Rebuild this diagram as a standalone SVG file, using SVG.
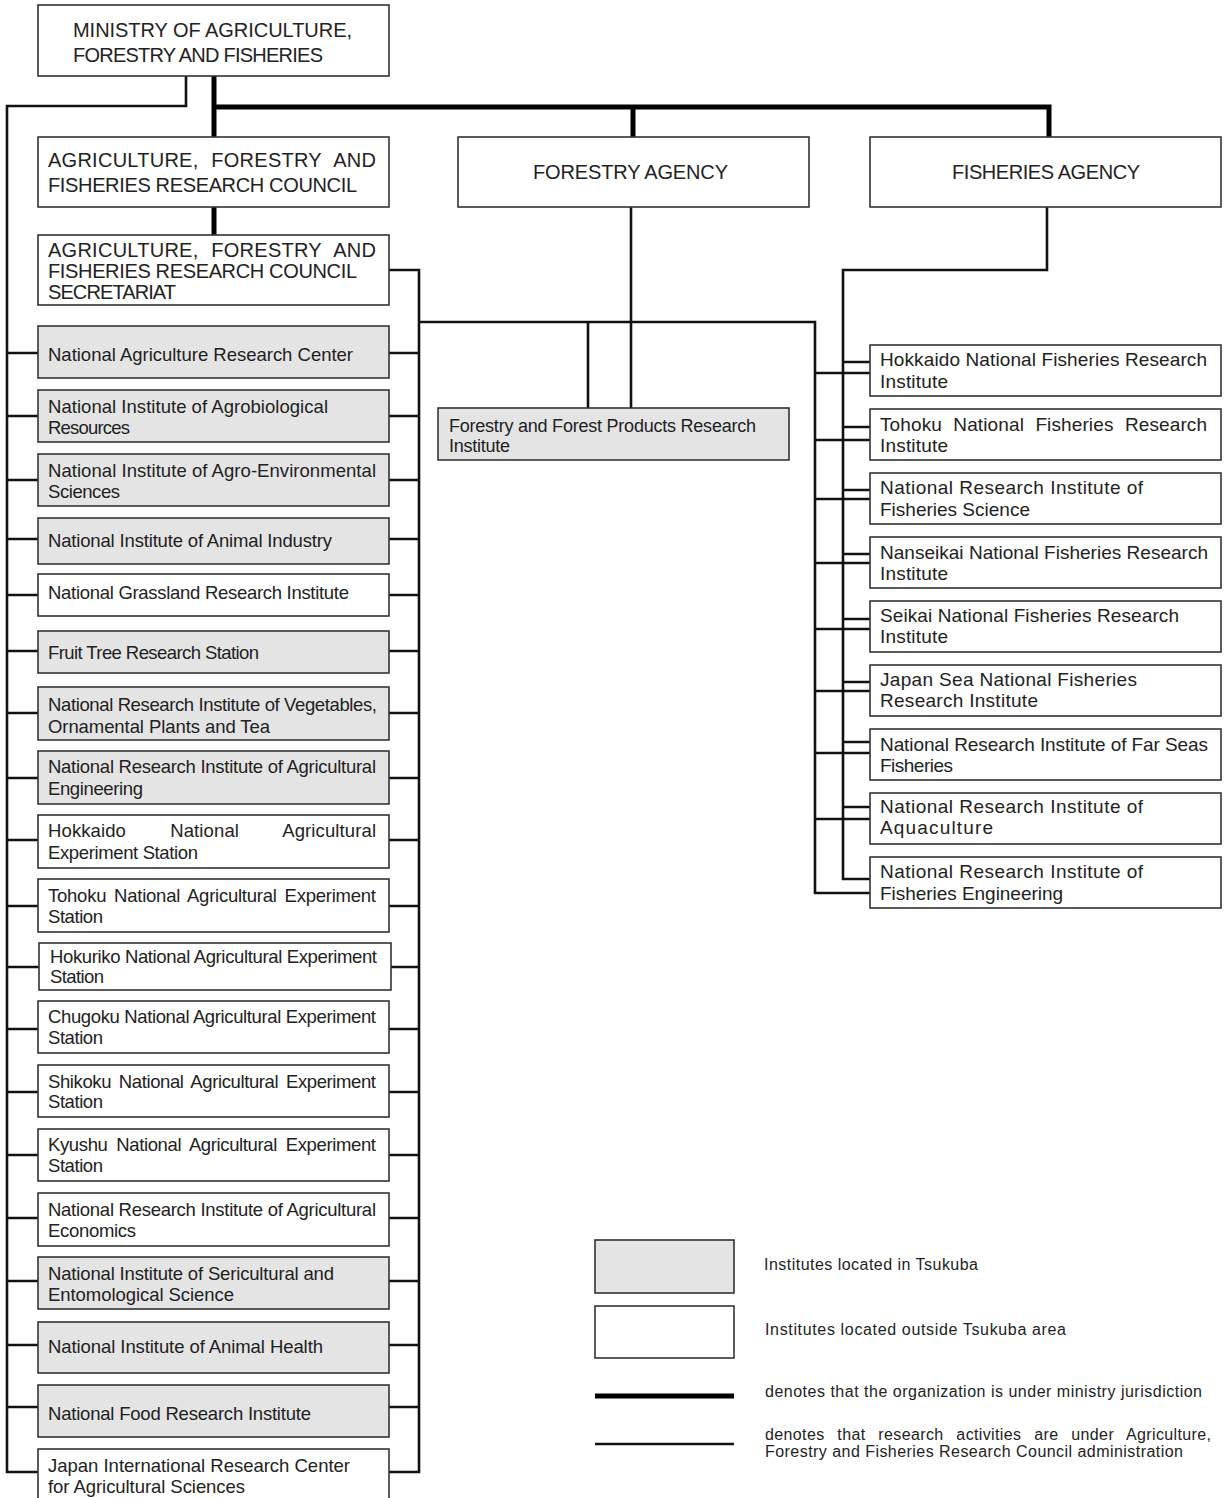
<svg xmlns="http://www.w3.org/2000/svg" width="1227" height="1498" viewBox="0 0 1227 1498">
<style>
  .box { fill: #ffffff; stroke: #333333; stroke-width: 1.6; }
  .ts { fill: #e4e4e4; stroke: #333333; stroke-width: 1.6; }
  .thin { fill: none; stroke: #111111; stroke-width: 2.6; stroke-linejoin: miter; }
  .thick { fill: none; stroke: #000000; stroke-width: 5; stroke-linejoin: miter; }
  text { font-family: "Liberation Sans", Arial, sans-serif; fill: #222222; }
  .cap { font-size: 20px; }
  .ins { font-size: 18.5px; }
  .fis { font-size: 19px; }
  .leg { font-size: 16px; }
</style>
<rect width="1227" height="1498" fill="#ffffff"/>

<g id="connectors">
  <path class="thin" d="M186,76 V106 H7 V1472 H38"/>
  <path class="thin" d="M7,353 H38 M7,416 H38 M7,480 H38 M7,539 H38 M7,595 H38 M7,651 H38 M7,713 H38 M7,778 H38 M7,840 H38 M7,906 H38 M7,967 H39 M7,1029 H38 M7,1092 H38 M7,1155 H38 M7,1218 H38 M7,1281 H38 M7,1345 H38 M7,1407 H38"/>
  <path class="thin" d="M389,270 H419 V1472 H389"/>
  <path class="thin" d="M389,353 H419 M389,416 H419 M389,480 H419 M389,539 H419 M389,595 H419 M389,651 H419 M389,713 H419 M389,778 H419 M389,840 H419 M389,906 H419 M391,967 H419 M389,1029 H419 M389,1092 H419 M389,1155 H419 M389,1218 H419 M389,1281 H419 M389,1345 H419 M389,1407 H419"/>
  <path class="thin" d="M419,322 H815 V893 H870"/>
  <path class="thin" d="M588,322 V408"/>
  <path class="thin" d="M631,207 V408"/>
  <path class="thin" d="M1047,207 V270 H843 V879 H870"/>
  <path class="thin" d="M843,362 H870 M843,427 H870 M843,490 H870 M843,554 H870 M843,619 H870 M843,682 H870 M843,742 H870 M843,807 H870"/>
  <path class="thin" d="M815,373 H870 M815,440 H870 M815,499 H870 M815,563 H870 M815,629 H870 M815,691 H870 M815,753 H870 M815,819 H870"/>
  <path class="thick" d="M214,76 V137"/>
  <path class="thick" d="M214,107 H1049 V137"/>
  <path class="thick" d="M633,107 V137"/>
  <path class="thick" d="M214,207 V235"/>
</g>

<g id="ministry">
  <rect class="box" x="38" y="5" width="351" height="71"/>
  <text class="cap" x="73" y="37" textLength="279">MINISTRY OF AGRICULTURE,</text>
  <text class="cap" x="73" y="62" textLength="250">FORESTRY AND FISHERIES</text>
</g>
<g id="council">
  <rect class="box" x="38" y="137" width="351" height="70"/>
  <text class="cap" x="48" y="167" word-spacing="7" textLength="328">AGRICULTURE, FORESTRY AND</text>
  <text class="cap" x="48" y="192" textLength="309">FISHERIES RESEARCH COUNCIL</text>
</g>
<g id="secretariat">
  <rect class="box" x="38" y="235" width="351" height="70"/>
  <text class="cap" x="48" y="257" word-spacing="7" textLength="328">AGRICULTURE, FORESTRY AND</text>
  <text class="cap" x="48" y="278" textLength="309">FISHERIES RESEARCH COUNCIL</text>
  <text class="cap" x="48" y="299" textLength="128">SECRETARIAT</text>
</g>
<g id="forestry-agency">
  <rect class="box" x="458" y="137" width="351" height="70"/>
  <text class="cap" x="533" y="179" textLength="195">FORESTRY AGENCY</text>
</g>
<g id="fisheries-agency">
  <rect class="box" x="870" y="137" width="351" height="70"/>
  <text class="cap" x="952" y="179" textLength="188">FISHERIES AGENCY</text>
</g>
<g id="ffpri">
  <rect class="ts" x="438" y="408" width="351" height="52"/>
  <text class="ins" x="449" y="432" style="font-size:18px" textLength="307">Forestry and Forest Products Research</text>
  <text class="ins" x="449" y="452" style="font-size:18px" textLength="61">Institute</text>
</g>

<g id="narc">
  <rect class="ts" x="38" y="326" width="351" height="52"/>
  <text class="ins" x="48" y="361" textLength="305">National Agriculture Research Center</text>
</g>
<g id="niar">
  <rect class="ts" x="38" y="390" width="351" height="52"/>
  <text class="ins" x="48" y="413" textLength="280">National Institute of Agrobiological</text>
  <text class="ins" x="48" y="434" textLength="82">Resources</text>
</g>
<g id="niaes">
  <rect class="ts" x="38" y="454" width="351" height="52"/>
  <text class="ins" x="48" y="477" textLength="328">National Institute of Agro-Environmental</text>
  <text class="ins" x="48" y="498" textLength="72">Sciences</text>
</g>
<g id="niai">
  <rect class="ts" x="38" y="518" width="351" height="46"/>
  <text class="ins" x="48" y="547" textLength="284">National Institute of Animal Industry</text>
</g>
<g id="ngri">
  <rect class="box" x="38" y="574" width="351" height="42"/>
  <text class="ins" x="48" y="599" textLength="301">National Grassland Research Institute</text>
</g>
<g id="ftrs">
  <rect class="ts" x="38" y="631" width="351" height="42"/>
  <text class="ins" x="48" y="659" textLength="211">Fruit Tree Research Station</text>
</g>
<g id="nrivot">
  <rect class="ts" x="38" y="687" width="351" height="53"/>
  <text class="ins" x="48" y="711" textLength="329">National Research Institute of Vegetables,</text>
  <text class="ins" x="48" y="733" textLength="222">Ornamental Plants and Tea</text>
</g>
<g id="nriae">
  <rect class="ts" x="38" y="751" width="351" height="53"/>
  <text class="ins" x="48" y="773" textLength="328">National Research Institute of Agricultural</text>
  <text class="ins" x="48" y="795" textLength="95">Engineering</text>
</g>
<g id="hnaes">
  <rect class="box" x="38" y="815" width="351" height="53"/>
  <text class="ins" x="48" y="837" word-spacing="39" textLength="328">Hokkaido National Agricultural</text>
  <text class="ins" x="48" y="859" textLength="150">Experiment Station</text>
</g>
<g id="tnaes">
  <rect class="box" x="38" y="879" width="351" height="53"/>
  <text class="ins" x="48" y="902" word-spacing="3" textLength="328">Tohoku National Agricultural Experiment</text>
  <text class="ins" x="48" y="923" textLength="55">Station</text>
</g>
<g id="hrnaes">
  <rect class="box" x="39" y="943" width="352" height="47"/>
  <text class="ins" x="50" y="963" textLength="327">Hokuriko National Agricultural Experiment</text>
  <text class="ins" x="50" y="983" textLength="54">Station</text>
</g>
<g id="cnaes">
  <rect class="box" x="38" y="1001" width="351" height="52"/>
  <text class="ins" x="48" y="1023" textLength="328">Chugoku National Agricultural Experiment</text>
  <text class="ins" x="48" y="1044" textLength="55">Station</text>
</g>
<g id="snaes">
  <rect class="box" x="38" y="1065" width="351" height="52"/>
  <text class="ins" x="48" y="1088" word-spacing="3" textLength="328">Shikoku National Agricultural Experiment</text>
  <text class="ins" x="48" y="1108" textLength="55">Station</text>
</g>
<g id="knaes">
  <rect class="box" x="38" y="1129" width="351" height="52"/>
  <text class="ins" x="48" y="1151" word-spacing="4" textLength="328">Kyushu National Agricultural Experiment</text>
  <text class="ins" x="48" y="1172" textLength="55">Station</text>
</g>
<g id="nriaecon">
  <rect class="box" x="38" y="1193" width="351" height="53"/>
  <text class="ins" x="48" y="1216" textLength="328">National Research Institute of Agricultural</text>
  <text class="ins" x="48" y="1237" textLength="88">Economics</text>
</g>
<g id="nises">
  <rect class="ts" x="38" y="1257" width="351" height="52"/>
  <text class="ins" x="48" y="1280" textLength="286">National Institute of Sericultural and</text>
  <text class="ins" x="48" y="1301" textLength="186">Entomological Science</text>
</g>
<g id="niah">
  <rect class="ts" x="38" y="1322" width="351" height="51"/>
  <text class="ins" x="48" y="1353" textLength="275">National Institute of Animal Health</text>
</g>
<g id="nfri">
  <rect class="ts" x="38" y="1385" width="351" height="52"/>
  <text class="ins" x="48" y="1420" textLength="263">National Food Research Institute</text>
</g>
<g id="jircas">
  <rect class="box" x="38" y="1449" width="351" height="55"/>
  <text class="ins" x="48" y="1472" textLength="302">Japan International Research Center</text>
  <text class="ins" x="48" y="1493" textLength="197">for Agricultural Sciences</text>
</g>

<g id="hnfri">
  <rect class="box" x="870" y="345" width="351" height="51"/>
  <text class="fis" x="880" y="366" textLength="327">Hokkaido National Fisheries Research</text>
  <text class="fis" x="880" y="388" textLength="68">Institute</text>
</g>
<g id="tnfri">
  <rect class="box" x="870" y="409" width="351" height="51"/>
  <text class="fis" x="880" y="431" word-spacing="6" textLength="327">Tohoku National Fisheries Research</text>
  <text class="fis" x="880" y="452" textLength="68">Institute</text>
</g>
<g id="nrifs">
  <rect class="box" x="870" y="473" width="351" height="51"/>
  <text class="fis" x="880" y="494" textLength="263">National Research Institute of</text>
  <text class="fis" x="880" y="516" textLength="150">Fisheries Science</text>
</g>
<g id="nnfri">
  <rect class="box" x="870" y="537" width="351" height="51"/>
  <text class="fis" x="880" y="559" textLength="328">Nanseikai National Fisheries Research</text>
  <text class="fis" x="880" y="580" textLength="68">Institute</text>
</g>
<g id="snfri">
  <rect class="box" x="870" y="601" width="351" height="51"/>
  <text class="fis" x="880" y="622" textLength="299">Seikai National Fisheries Research</text>
  <text class="fis" x="880" y="643" textLength="68">Institute</text>
</g>
<g id="jsnfri">
  <rect class="box" x="870" y="665" width="351" height="51"/>
  <text class="fis" x="880" y="686" textLength="257">Japan Sea National Fisheries</text>
  <text class="fis" x="880" y="707" textLength="158">Research Institute</text>
</g>
<g id="nrifsf">
  <rect class="box" x="870" y="729" width="351" height="51"/>
  <text class="fis" x="880" y="751" textLength="328">National Research Institute of Far Seas</text>
  <text class="fis" x="880" y="772" textLength="73">Fisheries</text>
</g>
<g id="nria">
  <rect class="box" x="870" y="793" width="351" height="51"/>
  <text class="fis" x="880" y="813" textLength="263">National Research Institute of</text>
  <text class="fis" x="880" y="834" textLength="113">Aquaculture</text>
</g>
<g id="nrife">
  <rect class="box" x="870" y="857" width="351" height="51"/>
  <text class="fis" x="880" y="878" textLength="263">National Research Institute of</text>
  <text class="fis" x="880" y="900" textLength="183">Fisheries Engineering</text>
</g>

<g id="legend">
  <rect class="ts" x="595" y="1240" width="139" height="53"/>
  <text class="leg" x="764" y="1270" textLength="214">Institutes located in Tsukuba</text>
  <rect class="box" x="595" y="1306" width="139" height="52"/>
  <text class="leg" x="765" y="1335" textLength="301">Institutes located outside Tsukuba area</text>
  <line x1="595" y1="1396" x2="734" y2="1396" stroke="#000000" stroke-width="5"/>
  <text class="leg" x="765" y="1397" textLength="437">denotes that the organization is under ministry jurisdiction</text>
  <line x1="595" y1="1444" x2="734" y2="1444" stroke="#111111" stroke-width="2.6"/>
  <text class="leg" x="765" y="1440" word-spacing="8" textLength="446">denotes that research activities are under Agriculture,</text>
  <text class="leg" x="765" y="1457" textLength="418">Forestry and Fisheries Research Council administration</text>
</g>
</svg>
